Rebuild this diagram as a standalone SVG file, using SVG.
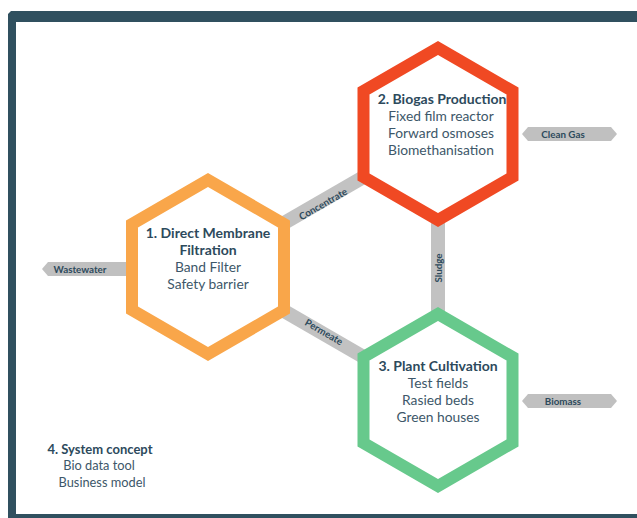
<svg xmlns="http://www.w3.org/2000/svg" width="637" height="518" viewBox="0 0 637 518">
  <defs>
    <style>
      .hex { fill: #ffffff; stroke-width: 12; stroke-linejoin: miter; }
      .bar { stroke: #c2c2c2; stroke-width: 14; fill: none; }
      .flow { fill: #c0c0c0; }
      .title { font-family: Lato, "Open Sans", sans-serif; font-weight: 700; font-size: 14px; fill: #2d4a5c; text-anchor: middle; }
      .item { font-family: Lato, "Open Sans", sans-serif; font-size: 13.8px; fill: #3d5769; text-anchor: middle; }
      .tag { font-family: Lato, "Open Sans", sans-serif; font-weight: 700; font-size: 9.8px; fill: #2d4a5c; text-anchor: middle; }
      .small-title { font-size: 13px; }
      .small-item { font-size: 12.8px; }
    </style>
  </defs>

  <!-- page frame -->
  <path d="M11,11 L650,11 L650,530 L8,530 L8,14 Z" fill="#30505f"/>
  <rect x="16" y="22" width="640" height="492" fill="#ffffff"/>

  <!-- connectors between the stages -->
  <g id="connectors">
    <line class="bar" x1="208" y1="267" x2="438" y2="134"/>
    <line class="bar" x1="208" y1="267" x2="438" y2="400"/>
    <line class="bar" x1="438" y1="134" x2="438" y2="400"/>
    <text class="tag" transform="translate(323,204) rotate(-30)" dy="3.5">Concentrate</text>
    <text class="tag" transform="translate(324,332) rotate(30)" dy="3.5">Permeate</text>
    <text class="tag" transform="translate(438,268) rotate(-90)" dy="3.5">Sludge</text>

    <!-- outputs -->
    <g id="wastewater">
      <polygon class="flow" points="42,269 48,262 130,262 130,276 48,276"/>
      <text class="tag" x="80" y="272.5">Wastewater</text>
    </g>
    <g id="clean-gas">
      <polygon class="flow" points="522,134 528,127 611,127 617,134 611,141 528,141"/>
      <text class="tag" x="563" y="137.5">Clean Gas</text>
    </g>
    <g id="biomass">
      <polygon class="flow" points="522,401 528,394 611,394 617,401 611,408 528,408"/>
      <text class="tag" x="563" y="404.5">Biomass</text>
    </g>
  </g>

  <!-- stage 1 -->
  <g id="filtration">
    <polygon class="hex" stroke="#f9a64a" points="208,180 284,224 284,310 208,354 132,310 132,224"/>
    <text class="title" x="208" y="238">1. Direct Membrane</text>
    <text class="title" x="208" y="255">Filtration</text>
    <text class="item" x="208" y="272">Band Filter</text>
    <text class="item" x="208" y="289">Safety barrier</text>
  </g>

  <!-- stage 2 -->
  <g id="biogas">
    <polygon class="hex" stroke="#f04923" points="438,48 512.5,91 512.5,177 438,220 363.5,177 363.5,91"/>
    <text class="title" x="442" y="104">2. Biogas Production</text>
    <text class="item" x="441" y="121">Fixed film reactor</text>
    <text class="item" x="441" y="138">Forward osmoses</text>
    <text class="item" x="441" y="155">Biomethanisation</text>
  </g>

  <!-- stage 3 -->
  <g id="cultivation">
    <polygon class="hex" stroke="#67c98c" points="438,314 512.5,357 512.5,443 438,486 363.5,443 363.5,357"/>
    <text class="title" x="438" y="371">3. Plant Cultivation</text>
    <text class="item" x="438" y="388">Test fields</text>
    <text class="item" x="438" y="405">Rasied beds</text>
    <text class="item" x="438" y="422">Green houses</text>
  </g>

  <!-- stage 4 -->
  <g id="system-concept">
    <text class="title small-title" x="100" y="454">4. System concept</text>
    <text class="item small-item" x="99" y="470">Bio data tool</text>
    <text class="item small-item" x="102" y="487">Business model</text>
  </g>
</svg>
